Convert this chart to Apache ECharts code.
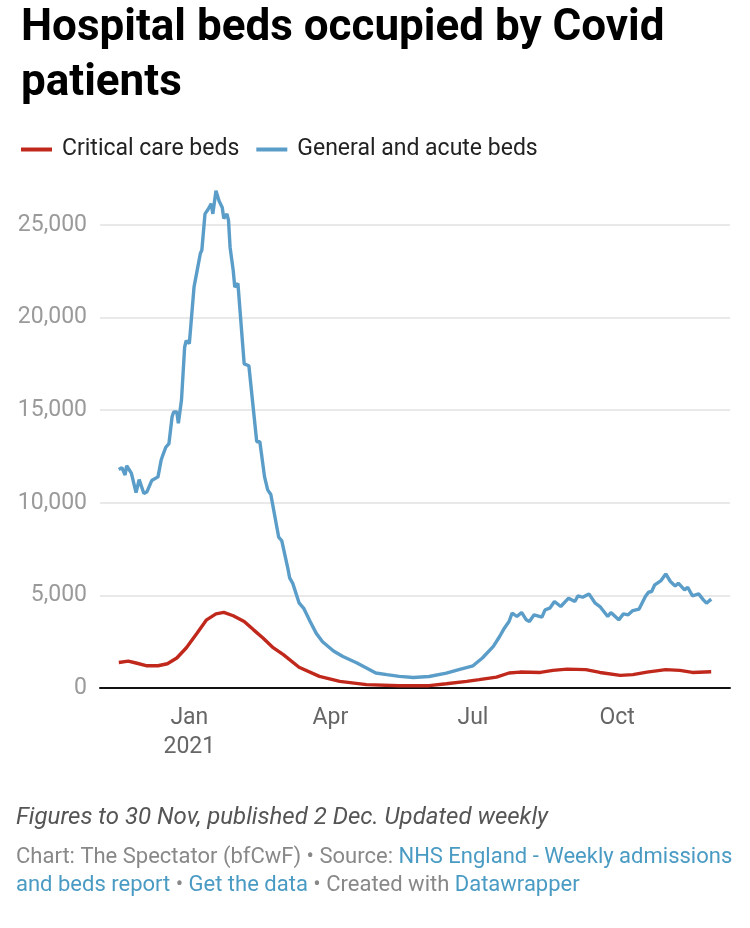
<!DOCTYPE html>
<html>
<head>
<meta charset="utf-8">
<script src="https://cdn.jsdelivr.net/npm/echarts@6/dist/echarts.min.js"></script>
<style>
html,body{margin:0;padding:0;background:#fff;}
#chart{width:750px;height:928px;}
</style>
</head>
<body>
<div id="chart"></div>
<script>
// ---- data ----
const seriesNames = ['Critical care beds', 'General and acute beds'];

const generalDates = [
'2020-11-17','2020-11-19','2020-11-21','2020-11-22','2020-11-25','2020-11-28','2020-11-30',
'2020-12-03','2020-12-05','2020-12-08','2020-12-09','2020-12-12','2020-12-14','2020-12-15',
'2020-12-17','2020-12-19','2020-12-21','2020-12-22','2020-12-24','2020-12-25','2020-12-27',
'2020-12-29','2020-12-30','2021-01-01','2021-01-04','2021-01-06','2021-01-08','2021-01-09',
'2021-01-11','2021-01-13','2021-01-15','2021-01-16','2021-01-18','2021-01-20','2021-01-22',
'2021-01-23','2021-01-25','2021-01-26','2021-01-27','2021-01-29','2021-01-30','2021-02-01',
'2021-02-05','2021-02-08','2021-02-13','2021-02-15','2021-02-18','2021-02-20','2021-02-22',
'2021-02-27','2021-03-01','2021-03-05','2021-03-06','2021-03-08','2021-03-12','2021-03-15',
'2021-03-19','2021-03-23','2021-03-27','2021-04-03','2021-04-09','2021-04-18','2021-04-24',
'2021-04-30','2021-05-07','2021-05-15','2021-05-24','2021-06-03','2021-06-14','2021-06-22',
'2021-07-01','2021-07-07','2021-07-14','2021-07-18','2021-07-21','2021-07-24','2021-07-26',
'2021-07-29','2021-08-01','2021-08-04','2021-08-06','2021-08-09','2021-08-14','2021-08-16',
'2021-08-19','2021-08-22','2021-08-26','2021-08-31','2021-09-04','2021-09-06','2021-09-09',
'2021-09-13','2021-09-17','2021-09-20','2021-09-25','2021-09-27','2021-10-02','2021-10-05',
'2021-10-08','2021-10-11','2021-10-15','2021-10-19','2021-10-21','2021-10-23','2021-10-25',
'2021-10-29','2021-11-01','2021-11-04','2021-11-07','2021-11-09','2021-11-13','2021-11-15',
'2021-11-18','2021-11-22','2021-11-25','2021-11-27','2021-11-30'
];
const generalValues = [
11800,11900,11500,12000,11600,10550,11250,
10500,10600,11200,11100,11400,12300,12550,
13000,13200,14650,14900,14900,14300,15550,
18400,18750,18600,21650,22550,23450,23650,
25600,25850,26150,25600,26850,26300,25950,
25350,25600,25250,23800,22550,21650,21850,
17500,17400,13300,13300,11400,10700,10450,
8150,7950,6400,5950,5650,4600,4300,
3600,2950,2500,2000,1700,1350,1080,
810,720,630,570,620,800,990,
1200,1620,2250,2780,3230,3590,4050,
3860,4080,3680,3590,3950,3830,4220,
4310,4670,4400,4850,4670,4980,4900,
5080,4580,4400,3860,4080,3680,4000,
3950,4180,4260,4940,5170,5210,5570,
5800,6160,5750,5510,5660,5300,5440,
4980,5080,4760,4580,4800
];

const criticalDates = [
'2020-11-17','2020-11-23','2020-11-28','2020-12-05','2020-12-12','2020-12-18','2020-12-24',
'2020-12-30','2021-01-06','2021-01-12','2021-01-18','2021-01-23','2021-01-29','2021-02-05',
'2021-02-11','2021-02-17','2021-02-23','2021-03-02','2021-03-12','2021-03-25','2021-04-07',
'2021-04-24','2021-05-15','2021-06-03','2021-06-14','2021-06-27','2021-07-05','2021-07-16',
'2021-07-24','2021-07-31','2021-08-13','2021-08-21','2021-08-30','2021-09-11','2021-09-20',
'2021-10-03','2021-10-11','2021-10-20','2021-11-01','2021-11-10','2021-11-18','2021-11-30'
];
const criticalValues = [
1380,1450,1350,1200,1200,1310,1620,
2160,2970,3680,4000,4080,3900,3590,
3140,2700,2210,1800,1120,630,360,
180,125,125,230,360,450,590,
810,860,840,950,1020,990,840,
680,720,860,990,950,840,880
];

const tickDates = ['2021-01-01','2021-04-01','2021-07-01','2021-10-01'];
const tickLabels = ['Jan\n2021','Apr','Jul','Oct'];
const yTicks = [0, 5000, 10000, 15000, 20000, 25000];
const xRange = ['2020-11-05','2021-12-12'];

// ---- chart ----
const parse = s => Date.UTC(+s.slice(0, 4), +s.slice(5, 7) - 1, +s.slice(8, 10));
const tickValues = tickDates.map(parse);

const chart = echarts.init(document.getElementById('chart'), null, {renderer: 'canvas'});
const FONT = 'Roboto';

chart.setOption({
  animation: false,
  backgroundColor: '#ffffff',
  textStyle: {fontFamily: FONT},
  title: {
    text: 'Hospital beds occupied by Covid\npatients',
    left: 16,
    top: -4,
    textStyle: {fontFamily: FONT, fontSize: 44, fontWeight: 'bold', color: '#000', lineHeight: 55}
  },
  legend: {
    left: 16,
    top: 133,
    icon: 'rect',
    itemWidth: 31,
    itemHeight: 4,
    itemGap: 17,
    data: seriesNames,
    textStyle: {fontFamily: FONT, fontSize: 23, color: '#222', padding: [0, 0, 0, 5]}
  },
  grid: {left: 100, right: 20, top: 225, bottom: 240, containLabel: false},
  xAxis: {
    type: 'value',
    min: parse(xRange[0]),
    max: parse(xRange[1]),
    axisLine: {show: true, lineStyle: {color: '#111', width: 2}},
    axisTick: {show: false},
    splitLine: {show: false},
    axisLabel: {
      customValues: tickValues,
      margin: 16,
      fontFamily: FONT,
      fontSize: 23,
      lineHeight: 29,
      color: '#666',
      verticalAlign: 'top',
      formatter: function (v) {
        const i = tickValues.indexOf(v);
        return i >= 0 ? tickLabels[i] : '';
      }
    }
  },
  yAxis: {
    type: 'value',
    min: yTicks[0],
    max: yTicks[yTicks.length - 1],
    interval: yTicks[1] - yTicks[0],
    axisLine: {show: false},
    axisTick: {show: false},
    splitLine: {show: true, lineStyle: {color: '#e2e2e2', width: 1.5}},
    axisLabel: {
      margin: 13,
      fontFamily: FONT,
      fontSize: 23,
      color: '#9a9a9a',
      formatter: v => v.toLocaleString('en-US')
    }
  },
  series: [
    {
      name: seriesNames[0],
      type: 'line',
      showSymbol: false,
      clip: false,
      z: 3,
      color: '#c0281c',
      lineStyle: {color: '#c0281c', width: 3.4},
      data: criticalDates.map((d, i) => [parse(d), criticalValues[i]])
    },
    {
      name: seriesNames[1],
      type: 'line',
      showSymbol: false,
      clip: false,
      z: 2,
      color: '#5b9dc9',
      lineStyle: {color: '#5b9dc9', width: 3.4},
      data: generalDates.map((d, i) => [parse(d), generalValues[i]])
    }
  ],
  graphic: [
    {
      type: 'text',
      left: 16,
      top: 806,
      style: {
        text: 'Figures to 30 Nov, published 2 Dec. Updated weekly',
        fontFamily: FONT, fontSize: 24, fontStyle: 'italic', fill: '#555'
      }
    },
    {
      type: 'text',
      left: 16,
      top: 843,
      style: {
        text: '{g|Chart: The Spectator (bfCwF) • Source: }{b|NHS England - Weekly admissions}\n{b|and beds report}{g| • }{b|Get the data}{g| • Created with }{b|Datawrapper}',
        fontFamily: FONT, fontSize: 22, lineHeight: 28,
        rich: {
          g: {fill: '#888', fontFamily: FONT, fontSize: 22, lineHeight: 28},
          b: {fill: '#4a9bc4', fontFamily: FONT, fontSize: 22, lineHeight: 28}
        }
      }
    }
  ]
});
</script>
</body>
</html>
